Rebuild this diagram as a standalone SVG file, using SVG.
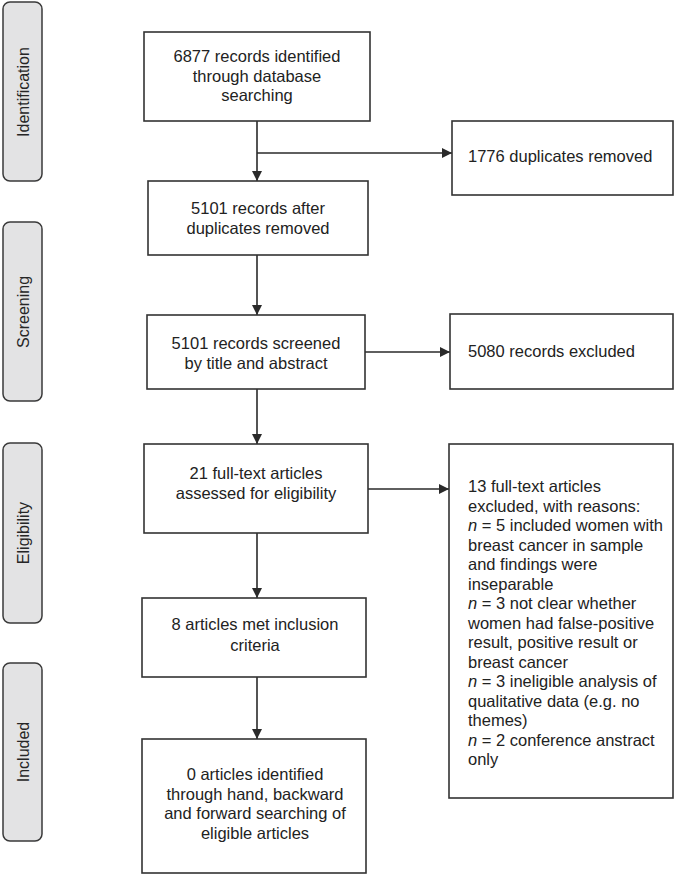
<svg xmlns="http://www.w3.org/2000/svg" width="675" height="876" viewBox="0 0 675 876">
<defs>
<style>
.lbl{fill:#e3e3e4;stroke:#3a3a3a;stroke-width:1.5}
.lt{font-family:"Liberation Sans",Arial,sans-serif;font-size:16px;fill:#262626;text-anchor:middle}
.box{fill:#fff;stroke:#333;stroke-width:1.6}
.t{font-family:"Liberation Sans",Arial,sans-serif;font-size:16.5px;fill:#222}
.c{text-anchor:middle}
.e{stroke:#2a2a2a;stroke-width:1.6;fill:none}
</style>
<marker id="ah" viewBox="0 0 10 10" refX="10" refY="5" markerWidth="10" markerHeight="10" markerUnits="userSpaceOnUse" orient="auto">
<path d="M0,0 L10,5 L0,10 z" fill="#2a2a2a"/>
</marker>
</defs>
<rect width="675" height="876" fill="#fff"/>
<g id="stage-identification"><rect class="lbl" x="3" y="2" width="39" height="179" rx="7"/><text class="lt" transform="translate(28.5,92) rotate(-90)">Identification</text></g>
<g id="stage-screening"><rect class="lbl" x="3" y="222" width="39" height="179" rx="7"/><text class="lt" transform="translate(28.5,312) rotate(-90)">Screening</text></g>
<g id="stage-eligibility"><rect class="lbl" x="3" y="443" width="39" height="180" rx="7"/><text class="lt" transform="translate(28.5,533) rotate(-90)">Eligibility</text></g>
<g id="stage-included"><rect class="lbl" x="3" y="663" width="39" height="178" rx="7"/><text class="lt" transform="translate(28.5,752) rotate(-90)">Included</text></g>

<g id="connectors">
<line class="e" x1="257" y1="121" x2="257" y2="181" marker-end="url(#ah)"/>
<line class="e" x1="257" y1="153" x2="452" y2="153" marker-end="url(#ah)"/>
<line class="e" x1="257" y1="255" x2="257" y2="315" marker-end="url(#ah)"/>
<line class="e" x1="365" y1="352" x2="450" y2="352" marker-end="url(#ah)"/>
<line class="e" x1="257" y1="389" x2="257" y2="444" marker-end="url(#ah)"/>
<line class="e" x1="368" y1="489" x2="449" y2="489" marker-end="url(#ah)"/>
<line class="e" x1="257" y1="533" x2="257" y2="598" marker-end="url(#ah)"/>
<line class="e" x1="257" y1="677" x2="257" y2="739" marker-end="url(#ah)"/>
</g>

<g id="n1"><rect class="box" x="144" y="32" width="226" height="89"/>
<text class="t c" x="257" y="62">6877 records identified</text>
<text class="t c" x="257" y="81.5">through database</text>
<text class="t c" x="257" y="101">searching</text></g>

<g id="n2"><rect class="box" x="452" y="121" width="221" height="74"/>
<text class="t" x="468" y="162">1776 duplicates removed</text></g>

<g id="n3"><rect class="box" x="148" y="181" width="220" height="74"/>
<text class="t c" x="258" y="214">5101 records after</text>
<text class="t c" x="258" y="234">duplicates removed</text></g>

<g id="n4"><rect class="box" x="147" y="315" width="218" height="74"/>
<text class="t c" x="256" y="349">5101 records screened</text>
<text class="t c" x="256" y="369">by title and abstract</text></g>

<g id="n5"><rect class="box" x="450" y="314" width="223" height="75"/>
<text class="t" x="468" y="357">5080 records excluded</text></g>

<g id="n6"><rect class="box" x="144" y="444" width="224" height="89"/>
<text class="t c" x="256" y="479">21 full-text articles</text>
<text class="t c" x="256" y="499">assessed for eligibility</text></g>

<g id="n7"><rect class="box" x="449" y="444" width="224" height="354"/>
<text class="t" x="468" y="492">13 full-text articles</text>
<text class="t" x="468" y="511.5">excluded, with reasons:</text>
<text class="t" x="468" y="531"><tspan font-style="italic">n</tspan> = 5 included women with</text>
<text class="t" x="468" y="550.5">breast cancer in sample</text>
<text class="t" x="468" y="570">and findings were</text>
<text class="t" x="468" y="589.5">inseparable</text>
<text class="t" x="468" y="609"><tspan font-style="italic">n</tspan> = 3 not clear whether</text>
<text class="t" x="468" y="628.5">women had false-positive</text>
<text class="t" x="468" y="648">result, positive result or</text>
<text class="t" x="468" y="667.5">breast cancer</text>
<text class="t" x="468" y="687"><tspan font-style="italic">n</tspan> = 3 ineligible analysis of</text>
<text class="t" x="468" y="706.5">qualitative data (e.g. no</text>
<text class="t" x="468" y="726">themes)</text>
<text class="t" x="468" y="745.5"><tspan font-style="italic">n</tspan> = 2 conference anstract</text>
<text class="t" x="468" y="765">only</text></g>

<g id="n8"><rect class="box" x="142" y="598" width="224" height="79"/>
<text class="t c" x="255" y="630">8 articles met inclusion</text>
<text class="t c" x="255" y="651">criteria</text></g>

<g id="n9"><rect class="box" x="142" y="739" width="224" height="134"/>
<text class="t c" x="255" y="780">0 articles identified</text>
<text class="t c" x="255" y="800">through hand, backward</text>
<text class="t c" x="255" y="819">and forward searching of</text>
<text class="t c" x="255" y="839">eligible articles</text></g>
</svg>
